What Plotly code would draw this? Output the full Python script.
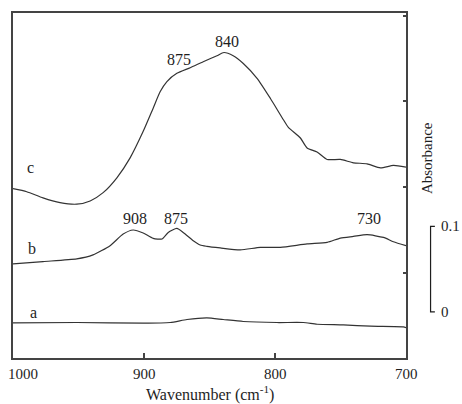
import plotly.graph_objects as go

# IR spectra (absorbance, curves offset vertically) vs wavenumber
wn_a = [1000, 951.3, 900.6, 880, 867.2, 852, 839.5, 824.2, 798.5, 778.4, 767.9, 747.8, 727.1, 702, 700]
abs_a = [0.0410, 0.0415, 0.0407, 0.0415, 0.0450, 0.0469, 0.0450, 0.0427, 0.0415, 0.0415,
         0.0395, 0.0387, 0.0372, 0.0364, 0.0355]

wn_b = [1000, 977.1, 951.3, 938.9, 925.9, 915.9, 908.3, 900.6, 893, 886.3, 881.5, 874.9, 870.1,
        862.4, 857.1, 852, 841.8, 826.5, 811.2, 795.9, 775.5, 760.2, 750.1, 740.1, 729.7,
        717.2, 709.6, 700]
abs_b = [0.1101, 0.1128, 0.1159, 0.1206, 0.1314, 0.1450, 0.1497, 0.1462, 0.1399, 0.1392,
         0.1469, 0.1515, 0.1469, 0.1372, 0.1322, 0.1306, 0.1287, 0.1264, 0.1294, 0.1294,
         0.1334, 0.1352, 0.1403, 0.1422, 0.1442, 0.1410, 0.1360, 0.1314]

wn_c = [1000, 989.5, 977.1, 964.1, 951.3, 941.1, 931.2, 920.7, 910.6, 900.6, 893, 887.6,
        882.5, 874.9, 864.7, 854.8, 844.3, 839, 831.9, 824.2, 813.7, 803.6, 793.6, 789.8,
        780.6, 775.5, 767.9, 760.2, 750.1, 740.1, 729.7, 719.5, 709.6, 700]
abs_c = [0.1980, 0.1945, 0.1872, 0.1817, 0.1799, 0.1837, 0.1934, 0.2108, 0.2341, 0.2651,
         0.2922, 0.3116, 0.3233, 0.3329, 0.3395, 0.3465, 0.3535, 0.3573, 0.3535, 0.3445,
         0.3271, 0.3038, 0.2787, 0.2698, 0.2573, 0.2457, 0.2410, 0.2322, 0.2322, 0.2283,
         0.2271, 0.2224, 0.2252, 0.2233]

x_ticks = [1000, 900, 800, 700]

# curve letters: (text, wavenumber, absorbance)
curve_labels = [("c", 987, 0.2224), ("b", 985.7, 0.1276), ("a", 984.7, 0.0527)]
# band positions marked above the curves
band_labels = [("840", 836.3, 0.3706), ("875", 873, 0.3497),
               ("908", 906.8, 0.1636), ("875", 875.4, 0.1636), ("730", 728.4, 0.1636)]

# absorbance scale bar
scale_lo, scale_hi = 0.054, 0.154

SERIF = "Liberation Serif"
INK = "#1e1e1e"
LINE = "#333333"

fig = go.Figure()
for wn, ab in [(wn_a, abs_a), (wn_b, abs_b), (wn_c, abs_c)]:
    fig.add_trace(go.Scatter(x=wn, y=ab, mode="lines",
                             line=dict(color=LINE, width=1.2, shape="spline", smoothing=0.6),
                             hoverinfo="skip"))

annotations = []
for txt, x, y in curve_labels + band_labels:
    annotations.append(dict(x=x, y=y, xref="x", yref="y", text=txt, showarrow=False,
                            font=dict(family=SERIF, size=16, color=INK),
                            xanchor="center", yanchor="middle"))

# x tick labels; the first one is nudged inside the page edge
for v in x_ticks:
    first = v == x_ticks[0]
    annotations.append(dict(x=-0.0178 if first else v, xref="paper" if first else "x",
                            y=-0.046, yref="paper", text=str(v), showarrow=False,
                            font=dict(family=SERIF, size=15, color=INK),
                            xanchor="left" if first else "center", yanchor="middle"))

annotations.append(dict(x=0.5, y=-0.1037, xref="paper", yref="paper",
                        text="Wavenumber (cm<sup>-1</sup>)", showarrow=False,
                        font=dict(family=SERIF, size=16, color=INK),
                        xanchor="center", yanchor="middle"))
annotations.append(dict(x=1.054, y=0.58, xref="paper", yref="paper",
                        text="Absorbance", textangle=-90, showarrow=False,
                        font=dict(family=SERIF, size=15, color=INK),
                        xanchor="center", yanchor="middle"))
annotations.append(dict(x=1.083, y=scale_hi, xref="paper", yref="y", text="0.1",
                        showarrow=False, font=dict(family=SERIF, size=15, color=INK),
                        xanchor="left", yanchor="middle"))
annotations.append(dict(x=1.083, y=scale_lo, xref="paper", yref="y", text="0",
                        showarrow=False, font=dict(family=SERIF, size=15, color=INK),
                        xanchor="left", yanchor="middle"))

bx0, bx1 = 1.0625, 1.0735
shapes = [dict(type="path", xref="paper", yref="y",
               path=f"M {bx1} {scale_hi} L {bx0} {scale_hi} L {bx0} {scale_lo} L {bx1} {scale_lo}",
               line=dict(color=INK, width=1.2))]

fig.update_layout(
    width=462, height=404,
    margin=dict(l=13, r=56, t=11, b=46),
    paper_bgcolor="white", plot_bgcolor="white",
    showlegend=False,
    annotations=annotations, shapes=shapes,
    xaxis=dict(range=[1000, 700], tickvals=x_ticks, showticklabels=False,
               ticks="inside", ticklen=5, tickwidth=1.5, tickcolor="#444",
               showline=True, linewidth=2, linecolor="#444", mirror=True,
               showgrid=False, zeroline=False),
    yaxis=dict(range=[0, 0.4035], side="right", dtick=0.1, showticklabels=False,
               ticks="inside", ticklen=3, tickwidth=1.5, tickcolor="#444",
               showline=True, linewidth=2, linecolor="#444", mirror=True,
               showgrid=False, zeroline=False),
)

fig.write_html("out.html")
